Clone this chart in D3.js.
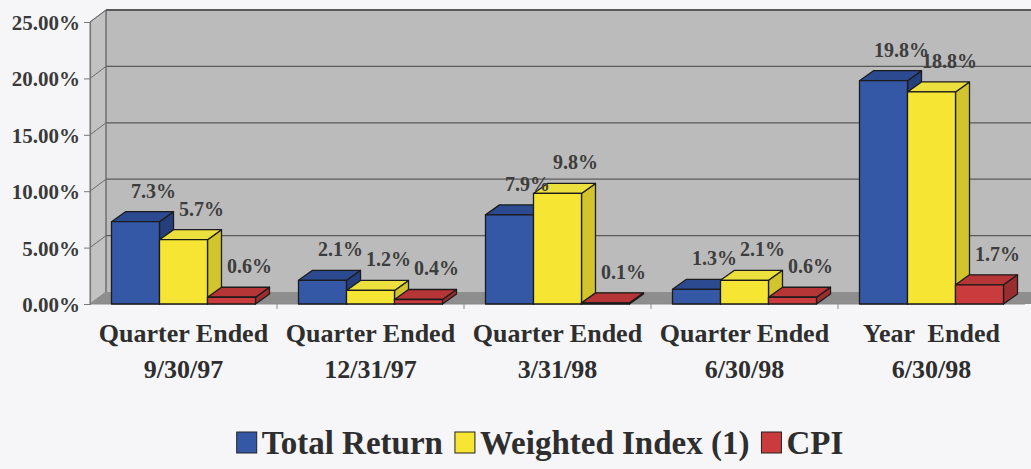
<!DOCTYPE html>
<html><head><meta charset="utf-8">
<script src="https://cdn.jsdelivr.net/npm/d3@7"></script>
<style>
html,body{margin:0;padding:0;background:#f6f6f8;}
svg{display:block;font-family:"Liberation Serif","Times New Roman",serif;font-weight:bold;}
</style></head><body>
<svg id="c" width="1031" height="469"></svg>
<script>
const categories = [["Quarter Ended","9/30/97"],["Quarter Ended","12/31/97"],["Quarter Ended","3/31/98"],["Quarter Ended","6/30/98"],["Year  Ended","6/30/98"]];
const seriesNames = ["Total Return","Weighted Index (1)","CPI"];
const totalReturn = [7.3, 2.1, 7.9, 1.3, 19.8];
const weightedIndex = [5.7, 1.2, 9.8, 2.1, 18.8];
const cpi = [0.6, 0.4, 0.1, 0.6, 1.7];
const yTicks = [0, 5, 10, 15, 20, 25];

const seriesValues = [totalReturn, weightedIndex, cpi];
const colors = [
  {front:"#3457a6", top:"#2c4a90", side:"#263f7c"},
  {front:"#f6e633", top:"#ece03e", side:"#d2c42c"},
  {front:"#c93b3d", top:"#b63537", side:"#9a2d2f"}
];

const svg = d3.select("#c");
const X0 = 90, X1 = 1025, Y0 = 304, Y1 = 22;
const WDX = 16, WDY = -12;   // wall depth
const BDX = 14, BDY = -10;   // bar depth

const y = d3.scaleLinear().domain([0, 25]).range([Y0, Y1]);
const catIdx = d3.range(categories.length);
const x = d3.scaleBand().domain(catIdx).range([X0, X1]);
const inner = d3.scaleBand().domain(d3.range(seriesNames.length)).range([0, 144]);
const innerOff = (x.bandwidth() - 144) / 2;

// texture filter
const defs = svg.append("defs");
const f = defs.append("filter").attr("id","tex").attr("x",0).attr("y",0).attr("width","100%").attr("height","100%");
f.append("feTurbulence").attr("type","fractalNoise").attr("baseFrequency","0.08 0.12").attr("numOctaves",3).attr("seed",5).attr("result","n");
f.append("feColorMatrix").attr("in","n").attr("type","matrix")
 .attr("values","0 0 0 0 0.5  0 0 0 0 0.5  0 0 0 0 0.5  0 0 0 0.12 0").attr("result","m");
f.append("feComposite").attr("in","m").attr("in2","SourceGraphic").attr("operator","atop");

// back wall
svg.append("rect").attr("x", X0 + WDX).attr("y", y(25) + WDY)
  .attr("width", X1 - X0 + 40).attr("height", y(0) - y(25))
  .attr("fill", "#bbbbbb").attr("filter","url(#tex)");
// side wall
svg.append("polygon").attr("points", [[X0, y(25)], [X0 + WDX, y(25) + WDY], [X0 + WDX, y(0) + WDY], [X0, y(0)]].join(" "))
  .attr("fill", "#c2c2c2").attr("stroke","#777").attr("stroke-width",1);
// floor
svg.append("polygon").attr("points", [[X0, y(0)], [X0 + WDX, y(0) + WDY], [X1 + 40, y(0) + WDY], [X1 + 24, y(0)]].join(" "))
  .attr("fill", "#8e8e8e");

// gridlines on back wall and side wall
yTicks.forEach(t => {
  if (t > 0) {
    svg.append("line").attr("x1", X0 + WDX).attr("x2", 1031)
      .attr("y1", y(t) + WDY).attr("y2", y(t) + WDY)
      .attr("stroke", "#5a5a5a").attr("stroke-width", t === 25 ? 2 : 1.3);
    svg.append("line").attr("x1", X0).attr("x2", X0 + WDX)
      .attr("y1", y(t)).attr("y2", y(t) + WDY)
      .attr("stroke", "#6a6a6a").attr("stroke-width", 1);
  }
});
svg.append("line").attr("x1", X0 + WDX).attr("x2", X0 + WDX).attr("y1", y(25) + WDY).attr("y2", y(0) + WDY)
  .attr("stroke", "#6a6a6a").attr("stroke-width", 1);

// y axis
const yAxis = d3.axisLeft(y).tickValues(yTicks).tickSize(6).tickPadding(4).tickFormat(d => d.toFixed(2) + "%");
const ya = svg.append("g").attr("transform", `translate(${X0},0)`).call(yAxis);
ya.select(".domain").attr("stroke", "#777").attr("stroke-width", 1.2);
ya.selectAll(".tick line").attr("stroke", "#777");
ya.selectAll(".tick text").attr("fill", "#3a3a3a").style("font-size", "21px")
  .style("font-family", '"Liberation Serif",serif').style("font-weight", "bold").attr("dy", "0.36em");

// x axis line + ticks
svg.append("line").attr("x1", X0).attr("x2", X1).attr("y1", Y0).attr("y2", Y0).attr("stroke", "#888").attr("stroke-width", 1.2);
catIdx.forEach(i => {
  if (i === 0) return;
  svg.append("line").attr("x1", x(i)).attr("x2", x(i)).attr("y1", Y0).attr("y2", Y0 + 5).attr("stroke", "#888");
});

// bars
const bars = svg.append("g");
catIdx.forEach(ci => {
  seriesValues.forEach((vals, si) => {
    const v = vals[ci];
    const bx = x(ci) + innerOff + inner(si), bw = inner.bandwidth();
    const yt = y(v), yb = y(0);
    const c = colors[si];
    const g = bars.append("g").attr("stroke", "#1b1b1b").attr("stroke-width", 1.3).attr("stroke-linejoin", "round");
    g.append("polygon").attr("points", [[bx + bw, yt], [bx + bw + BDX, yt + BDY], [bx + bw + BDX, yb + BDY], [bx + bw, yb]].join(" ")).attr("fill", c.side);
    g.append("polygon").attr("points", [[bx, yt], [bx + BDX, yt + BDY], [bx + bw + BDX, yt + BDY], [bx + bw, yt]].join(" ")).attr("fill", c.top);
    g.append("rect").attr("x", bx).attr("y", yt).attr("width", bw).attr("height", yb - yt).attr("fill", c.front);
  });
});

// data labels
catIdx.forEach(ci => {
  seriesValues.forEach((vals, si) => {
    const v = vals[ci];
    const bx = x(ci) + innerOff + inner(si) + inner.bandwidth() / 2;
    svg.append("text").attr("x", bx + 18).attr("y", y(v) - 24)
      .attr("text-anchor", "middle").attr("fill", "#3d3d3d").style("font-size", "20px")
      .text(v.toFixed(1) + "%");
  });
});

// category labels
catIdx.forEach(ci => {
  const cx = x(ci) + x.bandwidth() / 2;
  const t = svg.append("text").attr("text-anchor", "middle").attr("fill", "#2e2e2e").style("font-size", "26px");
  t.append("tspan").attr("x", cx).attr("y", 342).style("white-space","pre").text(categories[ci][0]);
  t.append("tspan").attr("x", cx).attr("y", 378).text(categories[ci][1]);
});

// legend
const lg = svg.append("g");
let lx = 0;
seriesNames.forEach((n, i) => {
  const g = lg.append("g").attr("transform", `translate(${lx},0)`);
  g.append("rect").attr("x", 0).attr("y", -22).attr("width", 20).attr("height", 21)
    .attr("fill", colors[i].front).attr("stroke", "#222").attr("stroke-width", 1);
  const tx = g.append("text").attr("x", 25).attr("y", 0).attr("fill", "#2e2e2e").style("font-size", "33px").text(n);
  const w = tx.node().getComputedTextLength();
  lx += 25 + w + 12;
});
const totalW = lx - 12;
lg.attr("transform", `translate(${540 - totalW / 2},454)`);
</script>
</body></html>
